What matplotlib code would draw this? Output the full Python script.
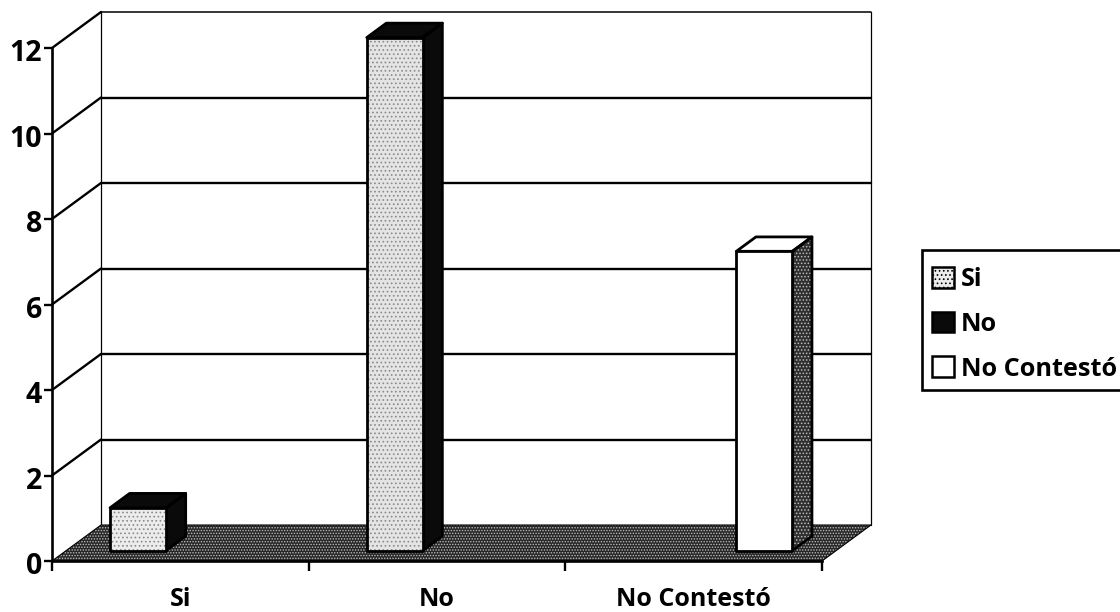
import matplotlib
matplotlib.use("Agg")
import matplotlib.pyplot as plt
from matplotlib.patches import Polygon, Patch, Rectangle
from matplotlib.transforms import ScaledTranslation

categories = ["Si", "No", "No Contestó"]
values = [1, 12, 7]
legend_labels = ["Si", "No", "No Contestó"]
series_offsets = [-0.22, -0.22, 0.22]
y_ticks = [0, 2, 4, 6, 8, 10, 12]

plt.rcParams["font.family"] = ["Open Sans", "DejaVu Sans"]
plt.rcParams["font.weight"] = "bold"
plt.rcParams["hatch.linewidth"] = 0.7

W, H = 1120, 612
fig = plt.figure(figsize=(W / 100, H / 100), dpi=100, facecolor="white")
L, R, T, B = 52, 822, 48, 561
ax = fig.add_axes([L / W, 1 - B / H, (R - L) / W, (B - T) / H])
ax.set_xlim(0, 3)
ax.set_ylim(0, 12)
ax.patch.set_visible(False)

DX = 49 / ((R - L) / 3)
DY = 36 / ((B - T) / 12)
BAR_W = 56 / ((R - L) / 3)
D0, D1 = 0.29, 0.69


def proj(x, v, d=0.0):
    return (x + d * DX, v + d * DY)


def face(pts, fc, hatch=None, hc="black", z=2, lw=2.0, ec="black"):
    ax.add_patch(Polygon(pts, closed=True, facecolor=fc, edgecolor=hc if hatch else "none",
                         hatch=hatch, lw=0, zorder=z, clip_on=False))
    if lw:
        ax.add_patch(Polygon(pts, closed=True, facecolor="none", edgecolor=ec, lw=lw,
                             zorder=z + 0.1, clip_on=False, joinstyle="round"))


def line(a, b, lw=1.3, z=1, c="black"):
    ax.plot([a[0], b[0]], [a[1], b[1]], color=c, lw=lw, zorder=z, clip_on=False,
            solid_capstyle="round")


# back wall and side wall frame
line(proj(0, 0, 1), proj(0, 12, 1), lw=0.9)
line(proj(3, 0, 1), proj(3, 12, 1), lw=0.9)
for t in y_ticks[1:]:
    lw = 1.1 if t == 12 else 1.7
    line(proj(0, t, 0), proj(0, t, 1), lw=1.7)
    line(proj(0, t, 1), proj(3, t, 1), lw=lw)

# floor
face([proj(0, 0, 0), proj(3, 0, 0), proj(3, 0, 1), proj(0, 0, 1)],
     "#262626", hatch="......", hc="#bdbdbd", z=1.5, lw=0.8)

# bars
styles = [
    dict(front="#ececec", fh="....", fhc="#8a8a8a", top="#0a0a0a", th=None, side="#0a0a0a", sh=None),
    dict(front="#e4e4e4", fh="....", fhc="#8a8a8a", top="#0a0a0a", th=None, side="#0a0a0a", sh=None),
    dict(front="white", fh=None, fhc="black", top="white", th=None, side="#2e2e2e", sh="....."),
]
for i, (v, off, s) in enumerate(zip(values, series_offsets, styles)):
    x0 = i + 0.5 + off - BAR_W / 2
    x1 = x0 + BAR_W
    face([proj(x1, 0, D0), proj(x1, 0, D1), proj(x1, v, D1), proj(x1, v, D0)],
         s["side"], hatch=s["sh"], hc="#bdbdbd", z=3)
    face([proj(x0, v, D0), proj(x1, v, D0), proj(x1, v, D1), proj(x0, v, D1)],
         s["top"], hatch=s["th"], z=3)
    face([proj(x0, 0, D0), proj(x1, 0, D0), proj(x1, v, D0), proj(x0, v, D0)],
         s["front"], hatch=s["fh"], hc=s["fhc"], z=4)

# axes
for sp in ("top", "right"):
    ax.spines[sp].set_visible(False)
for sp in ("left", "bottom"):
    ax.spines[sp].set_linewidth(1.9)
    ax.spines[sp].set_zorder(6)
ax.set_yticks(y_ticks)
ax.set_yticklabels([str(t) for t in y_ticks], fontsize=20.5, fontweight="bold")
ax.tick_params(axis="y", length=6, width=1.7, pad=1)
for lab in ax.get_yticklabels():
    lab.set_transform(lab.get_transform() + ScaledTranslation(0, -1.5 / 72, fig.dpi_scale_trans))
ax.set_xticks([0, 1, 2, 3])
ax.set_xticklabels([])
ax.tick_params(axis="x", which="major", length=7.5, width=1.7)
ax.set_xticks([0.5, 1.5, 2.5], minor=True)
ax.set_xticklabels(categories, minor=True, fontsize=18, fontweight="bold")
ax.tick_params(axis="x", which="minor", length=0, pad=19)

# legend frame, running off the right edge of the figure as in the reference
fig.add_artist(Rectangle((922 / W, 1 - 390 / H), 210 / W, 140 / H, transform=fig.transFigure,
                         facecolor="white", edgecolor="black", lw=1.9, clip_on=False, zorder=5))
handles = [
    Patch(facecolor="#ececec", edgecolor="black", lw=1.8, hatch="...."),
    Patch(facecolor="#0a0a0a", edgecolor="black", lw=1.8),
    Patch(facecolor="white", edgecolor="black", lw=1.8),
]
leg = fig.legend(handles, legend_labels, loc="upper left",
                 bbox_to_anchor=(924 / W, 1 - 259 / H), bbox_transform=fig.transFigure,
                 fontsize=18.2, frameon=False, borderaxespad=0, borderpad=0.3,
                 labelspacing=0.78, handlelength=0.9, handleheight=0.9, handletextpad=0.27)
leg.set_zorder(6)

fig.savefig("out.png", dpi=100)
